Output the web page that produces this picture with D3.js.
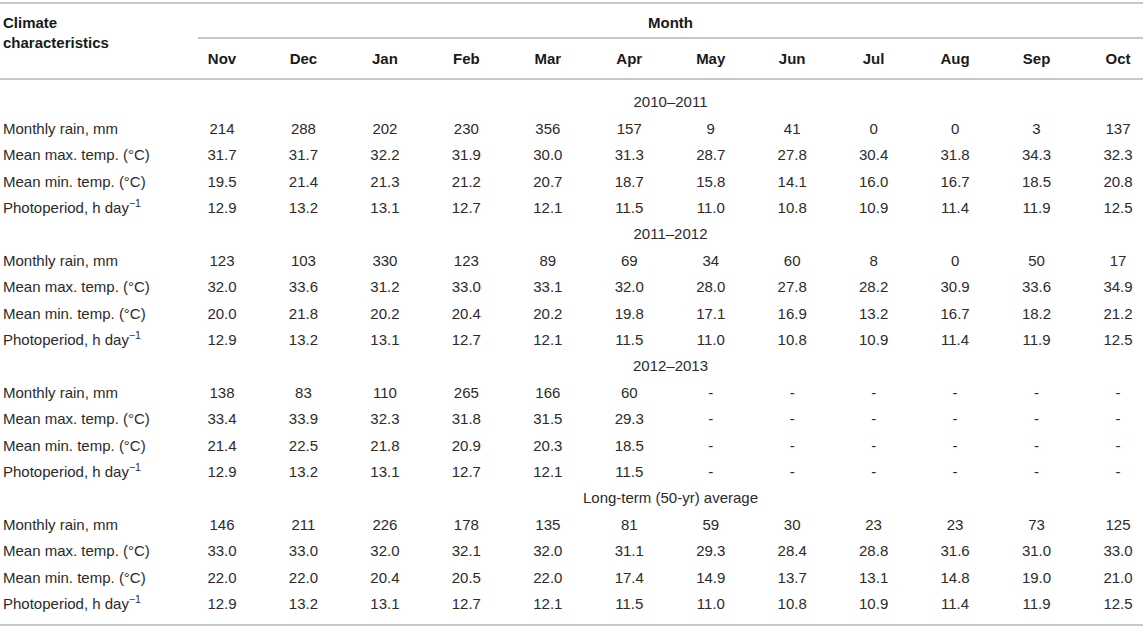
<!DOCTYPE html>
<html>
<head>
<meta charset="utf-8">
<script src="https://cdn.jsdelivr.net/npm/d3@7"></script>
<style>
  body { margin: 0; background: #fff; }
  svg { font-family: "Liberation Sans", Arial, Helvetica, sans-serif; }
</style>
</head>
<body>
<div id="chart"></div>
<script>
// table contents
const months = ["Nov", "Dec", "Jan", "Feb", "Mar", "Apr", "May", "Jun", "Jul", "Aug", "Sep", "Oct"];
const periods = ["2010\u20132011", "2011\u20132012", "2012\u20132013", "Long-term (50-yr) average"];
const rowLabels = ["Monthly rain, mm", "Mean max. temp. (\u00b0C)", "Mean min. temp. (\u00b0C)", "Photoperiod, h day"];

const rain1011 = [214, 288, 202, 230, 356, 157, 9, 41, 0, 0, 3, 137];
const tmax1011 = [31.7, 31.7, 32.2, 31.9, 30.0, 31.3, 28.7, 27.8, 30.4, 31.8, 34.3, 32.3];
const tmin1011 = [19.5, 21.4, 21.3, 21.2, 20.7, 18.7, 15.8, 14.1, 16.0, 16.7, 18.5, 20.8];
const photo1011 = [12.9, 13.2, 13.1, 12.7, 12.1, 11.5, 11.0, 10.8, 10.9, 11.4, 11.9, 12.5];

const rain1112 = [123, 103, 330, 123, 89, 69, 34, 60, 8, 0, 50, 17];
const tmax1112 = [32.0, 33.6, 31.2, 33.0, 33.1, 32.0, 28.0, 27.8, 28.2, 30.9, 33.6, 34.9];
const tmin1112 = [20.0, 21.8, 20.2, 20.4, 20.2, 19.8, 17.1, 16.9, 13.2, 16.7, 18.2, 21.2];
const photo1112 = [12.9, 13.2, 13.1, 12.7, 12.1, 11.5, 11.0, 10.8, 10.9, 11.4, 11.9, 12.5];

const rain1213 = [138, 83, 110, 265, 166, 60, null, null, null, null, null, null];
const tmax1213 = [33.4, 33.9, 32.3, 31.8, 31.5, 29.3, null, null, null, null, null, null];
const tmin1213 = [21.4, 22.5, 21.8, 20.9, 20.3, 18.5, null, null, null, null, null, null];
const photo1213 = [12.9, 13.2, 13.1, 12.7, 12.1, 11.5, null, null, null, null, null, null];

const rainLong = [146, 211, 226, 178, 135, 81, 59, 30, 23, 23, 73, 125];
const tmaxLong = [33.0, 33.0, 32.0, 32.1, 32.0, 31.1, 29.3, 28.4, 28.8, 31.6, 31.0, 33.0];
const tminLong = [22.0, 22.0, 20.4, 20.5, 22.0, 17.4, 14.9, 13.7, 13.1, 14.8, 19.0, 21.0];
const photoLong = [12.9, 13.2, 13.1, 12.7, 12.1, 11.5, 11.0, 10.8, 10.9, 11.4, 11.9, 12.5];

const groups = [
  [rain1011, tmax1011, tmin1011, photo1011],
  [rain1112, tmax1112, tmin1112, photo1112],
  [rain1213, tmax1213, tmin1213, photo1213],
  [rainLong, tmaxLong, tminLong, photoLong]
];

const width = 1143, height = 628;
const textColor = "#2b2b2b", ruleColor = "#b5b5b5", fontSize = 15;

const svg = d3.select("#chart").append("svg")
  .attr("width", width)
  .attr("height", height);

// scales
const x = d3.scalePoint().domain(months).range([222, 1118]);
const groupY = d3.scaleLinear().domain([0, 3]).range([129, 525]);
const rowY = d3.scaleLinear().domain([0, 3]).range([0, 79]);
const fmtInt = d3.format(".0f"), fmtDec = d3.format(".1f");
const monthMid = (198 + width) / 2;

// rules
const rules = [
  {x1: 0, x2: width, y: 3},
  {x1: 198, x2: width, y: 38},
  {x1: 0, x2: width, y: 79},
  {x1: 0, x2: width, y: 625}
];
svg.selectAll("line.rule")
  .data(rules)
  .join("line")
  .attr("class", "rule")
  .attr("x1", d => d.x1).attr("x2", d => d.x2)
  .attr("y1", d => d.y).attr("y2", d => d.y)
  .attr("stroke", ruleColor)
  .attr("stroke-width", 1.5);

// header
const head = svg.append("g")
  .attr("font-weight", "bold")
  .attr("font-size", fontSize)
  .attr("fill", "#1a1a1a");
head.append("text").attr("x", 3).attr("y", 28).text("Climate");
head.append("text").attr("x", 3).attr("y", 48).text("characteristics");
head.append("text").attr("x", monthMid).attr("y", 28)
  .attr("text-anchor", "middle").text("Month");
head.selectAll("text.month")
  .data(months)
  .join("text")
  .attr("class", "month")
  .attr("x", d => x(d))
  .attr("y", 64)
  .attr("text-anchor", "middle")
  .text(d => d);

// body
const body = svg.append("g")
  .attr("font-size", fontSize)
  .attr("fill", textColor);

groups.forEach((rows, g) => {
  const y0 = groupY(g);

  body.append("text")
    .attr("x", monthMid)
    .attr("y", y0 - 27 + 5)
    .attr("text-anchor", "middle")
    .text(periods[g]);

  rows.forEach((vals, r) => {
    const y = y0 + rowY(r) + 5;
    const label = body.append("text").attr("x", 3).attr("y", y).text(rowLabels[r]);
    if (r === 3) {
      label.append("tspan")
        .attr("dy", -6)
        .attr("font-size", 10.5)
        .text("\u22121");
    }
    const fmt = r === 0 ? fmtInt : fmtDec;
    body.selectAll(null)
      .data(vals)
      .join("text")
      .attr("x", (d, i) => x(months[i]))
      .attr("y", y)
      .attr("text-anchor", "middle")
      .text(d => d == null ? "-" : fmt(d));
  });
});
</script>
</body>
</html>
